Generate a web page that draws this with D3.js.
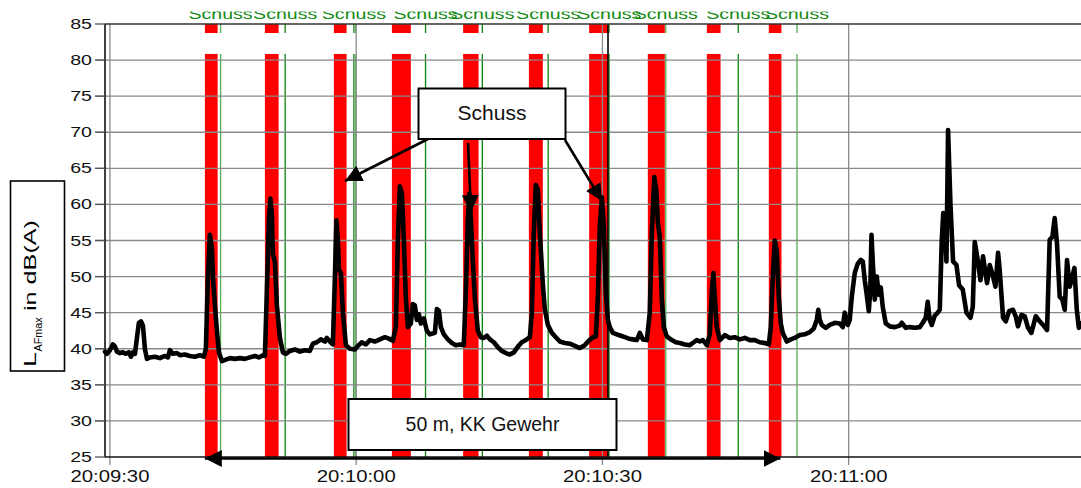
<!DOCTYPE html>
<html>
<head>
<meta charset="utf-8">
<script src="https://cdn.jsdelivr.net/npm/d3@7"></script>
<style>
body { margin: 0; background: #fff; }
svg { display: block; font-family: Arial, "Liberation Sans", sans-serif; }
</style>
</head>
<body>
<svg id="chart" width="1081" height="488"></svg>
<script>
// seconds after 20:09:30, LAFmax in dB(A)
const secs = [
	-0.6, -0.37, 0, 0.37, 0.61, 0.85, 1.22, 1.58, 1.95, 2.31, 2.56, 2.8, 3.05, 3.29, 3.53, 3.78, 4.02, 4.26, 4.51, 4.87,
	5.48, 6.09, 6.7, 7.06, 7.31, 7.67, 8.16, 8.53, 9.14, 9.74, 10.35, 10.96, 11.45, 11.69, 11.94, 12.18, 12.42, 12.55, 12.79, 13.03,
	13.28, 13.64, 14.13, 14.62, 15.23, 15.83, 16.44, 17.05, 17.66, 18.15, 18.64, 18.88, 19.12, 19.37, 19.55, 19.73, 19.85, 20.1, 20.34, 20.71,
	21.07, 21.44, 21.92, 22.53, 23.14, 23.75, 24.36, 24.73, 25.21, 25.7, 26.19, 26.43, 26.8, 27.16, 27.41, 27.59, 27.77, 27.89, 28.14, 28.38,
	28.75, 29.23, 29.84, 30.21, 30.69, 31.18, 31.67, 32.28, 32.89, 33.5, 33.98, 34.47, 34.83, 35.08, 35.32, 35.57, 35.81, 36.05, 36.3, 36.66,
	36.91, 37.15, 37.39, 37.64, 37.88, 38.25, 38.61, 38.98, 39.59, 39.83, 40.07, 40.32, 40.68, 41.17, 41.66, 42.14, 42.63, 43.11, 43.36, 43.61,
	43.79, 43.97, 44.22, 44.46, 44.82, 45.19, 45.55, 45.92, 46.29, 46.77, 47.26, 47.75, 48.23, 48.72, 49.21, 49.7, 50.18, 50.67, 51.16, 51.4,
	51.64, 51.89, 52.13, 52.37, 52.56, 52.74, 52.98, 53.35, 53.84, 54.32, 54.81, 55.42, 56.03, 56.64, 57.25, 57.86, 58.34, 58.83, 59.2, 59.44,
	59.68, 59.93, 60.17, 60.41, 60.66, 60.9, 61.27, 61.75, 62.24, 62.73, 63.22, 63.7, 64.19, 64.56, 64.92, 65.41, 65.77, 66.02, 66.32, 66.56,
	66.75, 66.99, 67.23, 67.48, 67.84, 68.45, 68.94, 69.43, 70.04, 70.65, 71.13, 71.5, 71.86, 72.23, 72.72, 73.08, 73.33, 73.51, 73.69, 73.93,
	74.3, 74.91, 75.52, 76.13, 76.74, 77.35, 77.95, 78.56, 79.17, 79.78, 80.27, 80.51, 80.76, 81, 81.24, 81.49, 81.73, 81.97, 82.46, 82.95,
	83.43, 84.04, 84.65, 85.26, 85.75, 86.11, 86.3, 86.48, 86.72, 87.21, 87.7, 88.31, 88.92, 89.28, 89.52, 89.89, 90.13, 90.38, 90.74, 91.11,
	91.47, 91.72, 91.96, 92.2, 92.45, 92.63, 92.78, 92.94, 93.18, 93.42, 93.67, 93.91, 94.15, 94.52, 95.01, 95.62, 96.22, 96.47, 96.95, 97.44,
	98.05, 98.66, 99.03, 99.39, 99.63, 99.88, 100.12, 100.49, 100.85, 101.1, 101.34, 101.52, 101.71, 101.91, 102.11, 102.4, 102.56, 102.72, 103.13, 103.45,
	103.9, 104.35, 104.84, 105.12, 105.36, 105.72, 106.05, 106.37, 106.66, 106.86, 107.19, 107.59, 107.88, 108.2, 108.4, 108.81, 109.14, 109.54, 110.02, 110.35,
	110.63, 111.05, 111.45, 111.85, 112.26, 112.79, 113.28, 113.68, 114.17, 114.49, 114.82, 115.1, 115.38, 115.71, 116.04, 116.32, 116.6, 116.93, 117.26, 117.5,
	117.79, 118.04, 118.3
]
const level = [
	39.6, 39.3, 39.8, 40.6, 40.3, 39.6, 39.4, 39.5, 39.3, 39.5, 38.9, 39.5, 39.3, 41.5, 43.6, 43.8, 43.2, 40.0, 38.6, 38.8,
	38.9, 38.7, 39.0, 38.8, 39.8, 39.3, 39.4, 39.1, 39.2, 39.0, 38.9, 39.1, 38.9, 40.0, 50.0, 55.8, 54.0, 50.0, 46.0, 42.5,
	39.5, 38.3, 38.5, 38.7, 38.6, 38.7, 38.6, 38.8, 39.0, 38.8, 39.1, 39.0, 48.0, 58.0, 60.8, 58.5, 53.2, 52.0, 46.0, 41.5,
	39.5, 39.3, 39.7, 39.9, 39.6, 39.8, 39.7, 40.7, 40.9, 41.3, 41.0, 41.5, 41.0, 40.6, 50.0, 57.8, 55.0, 51.0, 50.5, 45.0,
	40.5, 40.0, 39.9, 40.4, 40.9, 40.6, 41.2, 41.0, 41.3, 41.6, 41.4, 41.1, 43.0, 55.0, 62.5, 61.5, 55.0, 47.0, 43.0, 43.5,
	46.2, 46.0, 44.0, 44.8, 43.5, 44.2, 42.5, 42.0, 42.2, 45.5, 45.3, 43.0, 42.0, 41.3, 40.8, 40.5, 40.6, 40.5, 48.0, 58.0,
	61.5, 58.0, 52.0, 47.0, 42.5, 41.6, 41.5, 41.8, 41.3, 40.9, 40.2, 39.7, 39.4, 39.2, 39.5, 40.3, 40.9, 41.2, 41.6, 45.0,
	56.0, 62.7, 62.0, 56.0, 52.5, 49.0, 45.5, 43.3, 42.2, 41.6, 41.0, 40.8, 40.7, 40.4, 40.1, 40.5, 41.1, 41.6, 41.7, 47.0,
	57.0, 61.0, 57.0, 48.0, 44.0, 43.0, 42.2, 42.0, 41.8, 41.6, 41.4, 41.3, 41.2, 42.2, 41.3, 41.2, 45.0, 56.0, 63.8, 62.0,
	57.5, 55.5, 47.0, 43.0, 41.7, 41.2, 40.9, 40.8, 40.6, 40.5, 40.9, 41.2, 41.0, 41.2, 40.5, 42.0, 48.0, 50.5, 47.0, 43.0,
	41.2, 41.9, 41.5, 41.6, 41.3, 41.5, 41.2, 41.2, 40.9, 40.8, 40.6, 43.0, 50.0, 55.0, 53.5, 47.0, 43.5, 42.2, 41.0, 41.3,
	41.5, 41.9, 42.0, 42.3, 42.8, 44.0, 45.4, 44.0, 43.3, 42.9, 43.3, 43.6, 43.5, 43.0, 45.0, 43.3, 44.0, 47.2, 50.5, 51.8,
	52.3, 52.1, 49.5, 47.5, 45.2, 48.0, 55.8, 52.0, 46.8, 50.0, 47.5, 48.5, 45.8, 43.5, 43.1, 43.0, 43.2, 43.6, 42.9, 43.0,
	42.9, 43.0, 43.6, 44.3, 46.5, 44.0, 43.3, 44.6, 45.0, 45.4, 55.0, 58.8, 58.5, 52.1, 70.3, 60.0, 56.0, 52.1, 51.6, 48.8,
	48.2, 45.0, 44.3, 45.8, 54.8, 52.3, 49.5, 52.8, 50.5, 49.1, 51.6, 50.0, 48.6, 53.3, 50.9, 44.3, 43.8, 45.2, 45.4, 44.5,
	43.1, 44.7, 44.5, 42.9, 42.2, 44.5, 43.8, 43.3, 42.6, 55.1, 55.5, 58.1, 54.6, 47.2, 46.8, 45.4, 52.3, 48.6, 50.0, 51.2,
	45.4, 42.9, 43.5
]

// shot windows (red) and shot markers (green), seconds after 20:09:30
const shotStart = [11.57, 18.88, 27.28, 34.35, 43.03, 51.04, 58.38, 65.53, 72.72, 80.27]
const shotEnd = [13.12, 20.55, 28.83, 36.66, 44.91, 52.74, 60.69, 67.6, 74.39, 81.81]
const shotMark = [13.48, 21.35, 29.72, 38.45, 45.37, 53.39, 60.84, 67.72, 76.55, 83.7]
const extraMark = [29.96]
const cursorMark = [60.68]
const shotLabel = 'Schuss'

// red / green bands are drawn in two pieces (dB ranges)
const bandRanges = [[25, 80.85], [83.75, 85]]

const yTicks = [25, 30, 35, 40, 45, 50, 55, 60, 65, 70, 75, 80, 85]
const domainSecs = [-0.6, 119.4]
const tickEvery = 30

const W = 1081
const H = 488
const plotLeft = 105
const plotRight = 1090
const plotTop = 24
const plotBottom = 457

const base = new Date(2000, 0, 1, 20, 9, 30)
const toDate = s => new Date(base.getTime() + s*1000)

const svg = d3.select('#chart')

svg.append('rect').attr('width', W).attr('height', H).attr('fill', '#fff')

const x = d3.scaleTime()
	.domain(domainSecs.map(toDate))
	.range([plotLeft, plotRight])

const y = d3.scaleLinear()
	.domain([25, 85])
	.range([plotBottom, plotTop])

const xTicks = x.ticks(d3.timeSecond.every(tickEvery))
const fmt = d3.timeFormat('%H:%M:%S')

const lightMarks = new Set([0, 6, 7, 9])

// red shot windows
const bands = svg.append('g')
bandRanges.forEach(r => {
	bands.selectAll(null)
		.data(shotStart)
		.enter()
		.append('rect')
		.attr('x', (d, i) => x(toDate(d)))
		.attr('width', (d, i) => x(toDate(shotEnd[i])) - x(toDate(d)))
		.attr('y', y(r[1]))
		.attr('height', y(r[0]) - y(r[1]))
		.attr('fill', '#ff0000')
})

// green marker lines
const marks = svg.append('g')
bandRanges.forEach(r => {
	marks.selectAll(null)
		.data(shotMark)
		.enter()
		.append('line')
		.attr('x1', d => x(toDate(d)))
		.attr('x2', d => x(toDate(d)))
		.attr('y1', y(r[0]))
		.attr('y2', y(r[1]))
		.attr('stroke', (d, i) => lightMarks.has(i) ? '#4fae4f' : '#0a840a')
		.attr('stroke-width', 1.3)
	marks.selectAll(null)
		.data(extraMark)
		.enter()
		.append('line')
		.attr('x1', d => x(toDate(d)))
		.attr('x2', d => x(toDate(d)))
		.attr('y1', y(r[0]))
		.attr('y2', y(r[1]))
		.attr('stroke', '#4fae4f')
		.attr('stroke-width', 1.3)
})

// grid
const grid = svg.append('g')
grid.selectAll(null)
	.data(yTicks.filter(d => d > 25 && d < 85))
	.enter()
	.append('line')
	.attr('x1', plotLeft - 10)
	.attr('x2', W)
	.attr('y1', d => y(d))
	.attr('y2', d => y(d))
	.attr('stroke', '#8a8a8a')
	.attr('stroke-width', 1.3)

grid.selectAll(null)
	.data(xTicks)
	.enter()
	.append('line')
	.attr('x1', d => x(d))
	.attr('x2', d => x(d))
	.attr('y1', plotTop)
	.attr('y2', plotBottom + 8)
	.attr('stroke', '#8a8a8a')
	.attr('stroke-width', 1.3)

// black cursor line
svg.append('g').selectAll(null)
	.data(cursorMark)
	.enter()
	.append('line')
	.attr('x1', d => x(toDate(d)))
	.attr('x2', d => x(toDate(d)))
	.attr('y1', plotTop)
	.attr('y2', plotBottom)
	.attr('stroke', '#000')
	.attr('stroke-width', 1.6)

// axes frame
svg.append('line').attr('x1', plotLeft).attr('x2', W).attr('y1', plotTop).attr('y2', plotTop)
	.attr('stroke', '#333').attr('stroke-width', 1.6)
svg.append('line').attr('x1', plotLeft).attr('x2', W).attr('y1', plotBottom).attr('y2', plotBottom)
	.attr('stroke', '#111').attr('stroke-width', 1.6)
svg.append('line').attr('x1', plotLeft).attr('x2', plotLeft).attr('y1', plotTop).attr('y2', plotBottom)
	.attr('stroke', '#111').attr('stroke-width', 1.6)

// y tick marks + labels
const yAxis = svg.append('g')
yAxis.selectAll(null)
	.data(yTicks)
	.enter()
	.append('line')
	.attr('x1', plotLeft - 10)
	.attr('x2', plotLeft)
	.attr('y1', d => y(d))
	.attr('y2', d => y(d))
	.attr('stroke', '#555')
	.attr('stroke-width', 1.3)

yAxis.selectAll(null)
	.data(yTicks)
	.enter()
	.append('text')
	.attr('transform', d => `translate(92, ${y(d) + 5}) scale(1.4, 1)`)
	.attr('text-anchor', 'end')
	.style('font-size', '14px')
	.attr('fill', '#111')
	.text(d => d)

// x labels
svg.append('g').selectAll(null)
	.data(xTicks)
	.enter()
	.append('text')
	.attr('transform', d => `translate(${x(d)}, 482) scale(1.27, 1)`)
	.attr('text-anchor', 'middle')
	.style('font-size', '16px')
	.attr('fill', '#111')
	.text(fmt)

// level curve
const line = d3.line()
	.x((d, i) => x(toDate(secs[i])))
	.y(d => y(d))

svg.append('path')
	.datum(level)
	.attr('d', line)
	.attr('fill', 'none')
	.attr('stroke', '#000')
	.attr('stroke-width', 4.6)
	.attr('stroke-linejoin', 'round')
	.attr('stroke-linecap', 'round')

// green "Schuss" labels, clipped at the top
svg.append('clipPath').attr('id', 'topclip')
	.append('rect').attr('x', 0).attr('y', 11.5).attr('width', W).attr('height', 20)

svg.append('g')
	.attr('clip-path', 'url(#topclip)')
	.selectAll(null)
	.data(shotMark)
	.enter()
	.append('text')
	.attr('transform', d => `translate(${x(toDate(d))}, 18.5) scale(1.35, 1)`)
	.attr('text-anchor', 'middle')
	.style('font-size', '14.5px')
	.attr('fill', '#138a13')
	.text(shotLabel)

// y axis title box
svg.append('rect')
	.attr('x', 10.5).attr('y', 181).attr('width', 54).attr('height', 190)
	.attr('fill', '#fff').attr('stroke', '#000').attr('stroke-width', 1.6)

const title = svg.append('g').attr('transform', 'translate(36, 0) rotate(-90)')
title.append('text')
	.attr('x', -367).attr('y', 0)
	.attr('textLength', 15).attr('lengthAdjust', 'spacingAndGlyphs')
	.style('font-size', '16px')
	.text('L')
title.append('text')
	.attr('x', -351.5).attr('y', 5.5)
	.attr('textLength', 34).attr('lengthAdjust', 'spacingAndGlyphs')
	.style('font-size', '11px')
	.text('AFmax')
title.append('text')
	.attr('x', -311).attr('y', 0)
	.attr('textLength', 91).attr('lengthAdjust', 'spacingAndGlyphs')
	.style('font-size', '16px')
	.text('in dB(A)')

// arrows
const defs = svg.append('defs')
defs.append('marker')
	.attr('id', 'head')
	.attr('viewBox', '0 0 10 10')
	.attr('refX', 10).attr('refY', 5)
	.attr('markerWidth', 6.5).attr('markerHeight', 6.5)
	.attr('markerUnits', 'strokeWidth')
	.attr('orient', 'auto-start-reverse')
	.append('path')
	.attr('d', 'M0,0 L10,5 L0,10 Z')
	.attr('fill', '#000')

const arrow = (x1, y1, x2, y2, both) => svg.append('line')
	.attr('x1', x1).attr('y1', y1).attr('x2', x2).attr('y2', y2)
	.attr('stroke', '#000').attr('stroke-width', 2.6)
	.attr('marker-end', 'url(#head)')
	.attr('marker-start', both ? 'url(#head)' : null)

arrow(428, 139, 345, 181)
arrow(468, 143, 471, 212)
arrow(565, 140, 602, 201)
arrow(x(toDate(shotStart[0])), 458.5, x(toDate(shotEnd[9])) - 1, 458.5, true)

// callout boxes
const callout = (x0, y0, w, h, txt, size, baseline) => {
	svg.append('rect')
		.attr('x', x0).attr('y', y0).attr('width', w).attr('height', h)
		.attr('fill', '#fff').attr('stroke', '#000').attr('stroke-width', 2)
	svg.append('text')
		.attr('x', x0 + w/2).attr('y', baseline)
		.attr('text-anchor', 'middle')
		.style('font-size', size + 'px')
		.attr('fill', '#111')
		.text(txt)
}

callout(418.5, 88.5, 147, 50.5, 'Schuss', 21, 119.5)
callout(348.5, 399, 268, 51, '50 m, KK Gewehr', 19.5, 430.5)
</script>
</body>
</html>
